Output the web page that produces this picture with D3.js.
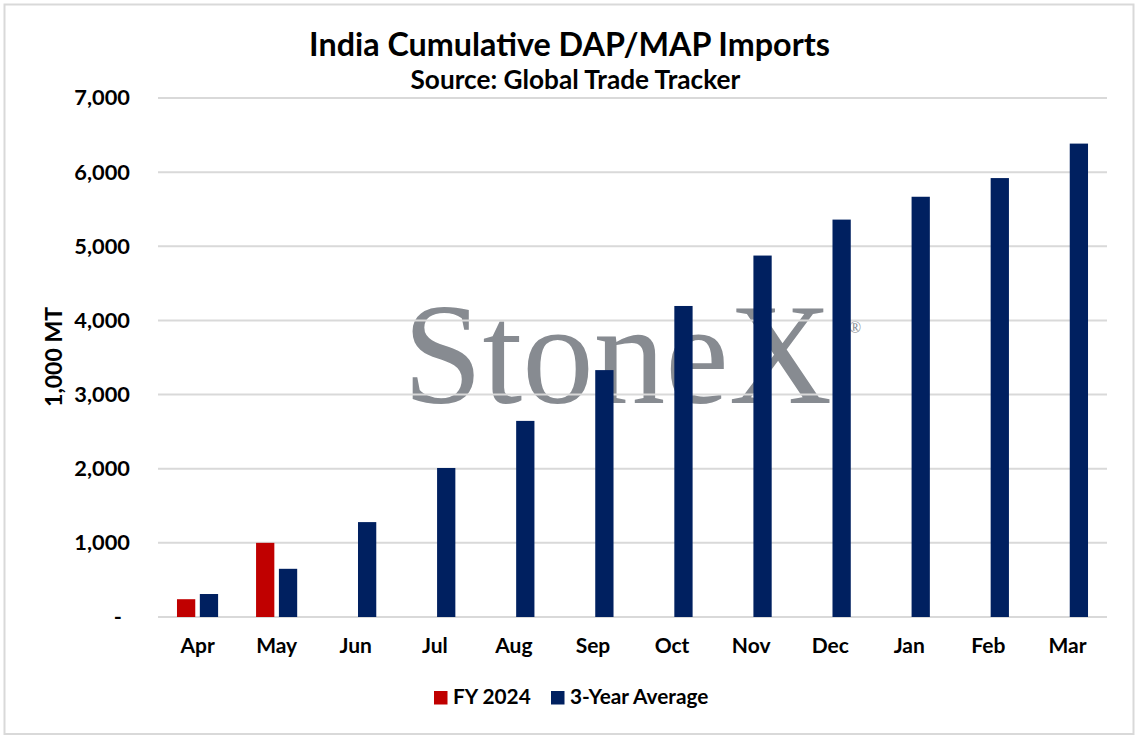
<!DOCTYPE html>
<html><head><meta charset="utf-8">
<script src="https://cdn.jsdelivr.net/npm/d3@7"></script>
<style>
body{margin:0;background:#fff}
svg{display:block}
text{font-family:Lato,"Open Sans",sans-serif;font-weight:700;fill:#000}
</style>
</head><body>
<svg id="c" width="1139" height="738"></svg>
<script>
// ---- data ----
const months = ["Apr","May","Jun","Jul","Aug","Sep","Oct","Nov","Dec","Jan","Feb","Mar"];
const fy2024 = [240, 1000];
const avg3yr = [310, 650, 1280, 2010, 2645, 3330, 4195, 4875, 5360, 5668, 5920, 6385];
const yTicks = [0, 1000, 2000, 3000, 4000, 5000, 6000, 7000];
const seriesNames = ["FY 2024", "3-Year Average"];
const seriesColors = ["#C00000", "#002060"];
const titleText = "India Cumulative DAP/MAP Imports";
const subtitleText = "Source: Global Trade Tracker";
const yTitle = "1,000 MT";

// ---- layout ----
const W = 1139, H = 738;
const plot = {left: 158, right: 1107, top: 98, bottom: 617};
const svg = d3.select("#c");

svg.append("rect").attr("x",4.5).attr("y",4.5).attr("width",1129).attr("height",729.5)
  .attr("fill","#fff").attr("stroke","#D9D9D9").attr("stroke-width",2);

const x0 = d3.scaleBand().domain(months).range([plot.left, plot.right])
  .paddingInner(0.48).paddingOuter(0.24);
const x1 = d3.scaleBand().domain(seriesNames).range([0, x0.bandwidth()]).paddingInner(0.2);
const y = d3.scaleLinear().domain([0, 7000]).range([plot.bottom, plot.top]);

// watermark
const wm = svg.append("g").attr("class","watermark");
wm.append("text").attr("x",403).attr("y",403)
  .style("font-family","'Liberation Serif','DejaVu Serif',serif").style("font-weight","400")
  .style("font-size","143px").style("fill","#878B91").text("StoneX");
wm.append("text").attr("x",849).attr("y",333)
  .style("font-family","'Liberation Serif','DejaVu Serif',serif").style("font-weight","400")
  .style("font-size","16px").style("fill","#878B91").text("®");

// gridlines
svg.append("g").selectAll("line").data(yTicks).join("line")
  .attr("x1", plot.left).attr("x2", plot.right)
  .attr("y1", d => y(d)).attr("y2", d => y(d))
  .attr("stroke","#D9D9D9").attr("stroke-width",2);

// y axis
const yAxis = svg.append("g").attr("transform",`translate(${plot.left},0)`)
  .call(d3.axisLeft(y).tickValues(yTicks).tickSize(0).tickPadding(28)
    .tickFormat(d => d === 0 ? "-" : d3.format(",")(d)));
yAxis.select(".domain").remove();
yAxis.selectAll("text").style("font-size","21.8px").style("font-family","Lato,sans-serif")
  .style("font-weight","700").attr("fill","#000")
  .attr("dx", d => d === 0 ? -8 : 0);

// x axis labels
const xAxis = svg.append("g").attr("transform",`translate(0,${plot.bottom})`)
  .call(d3.axisBottom(x0).tickSize(0).tickPadding(21));
xAxis.select(".domain").remove();
xAxis.selectAll("text").style("font-size","21px").style("font-family","Lato,sans-serif")
  .style("font-weight","700").attr("fill","#000");

// bars
const series = [fy2024, avg3yr];
series.forEach((vals, si) => {
  svg.append("g").selectAll("rect").data(vals).join("rect")
    .attr("x", (d, i) => x0(months[i]) + x1(seriesNames[si]))
    .attr("width", x1.bandwidth())
    .attr("y", d => y(d))
    .attr("height", d => y(0) - y(d))
    .attr("fill", seriesColors[si]);
});

// titles
svg.append("text").attr("x", W/2).attr("y", 56).attr("text-anchor","middle")
  .style("font-size","32.3px").text(titleText);
svg.append("text").attr("x", 575.4).attr("y", 89).attr("text-anchor","middle")
  .style("font-size","26.2px").text(subtitleText);
svg.append("text").attr("transform","translate(62,357) rotate(-90)").attr("text-anchor","middle")
  .style("font-size","23px").text(yTitle);

// legend
const legX = [434, 551];
const leg = svg.append("g");
seriesNames.forEach((n, i) => {
  leg.append("rect").attr("x", legX[i]).attr("y", 691).attr("width", 13.5).attr("height", 13.5)
    .attr("fill", seriesColors[i]);
  leg.append("text").attr("x", legX[i] + 19).attr("y", 704).style("font-size","20.8px").text(n);
});
</script>
</body></html>
